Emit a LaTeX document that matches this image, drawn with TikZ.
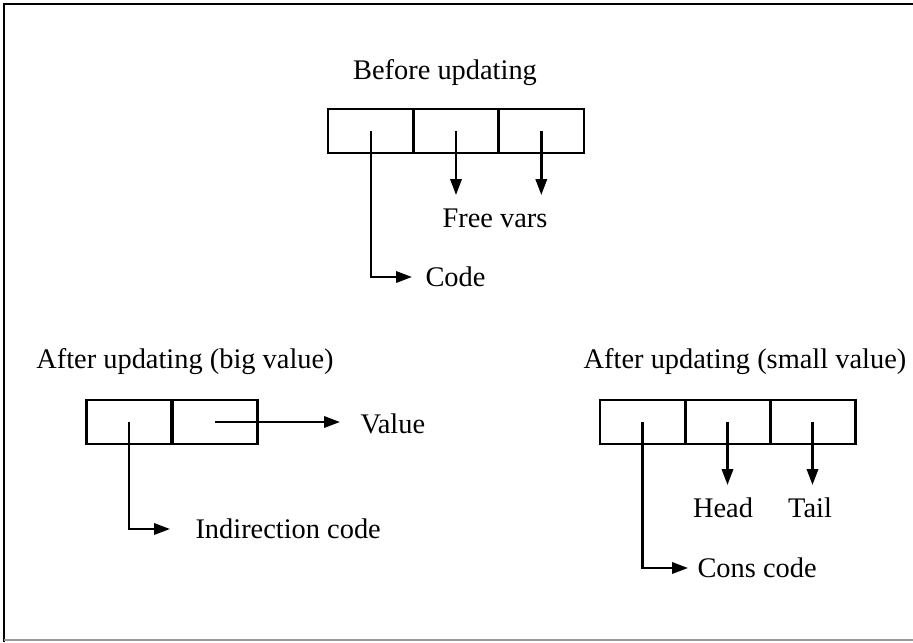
\documentclass[tikz,border=0pt]{standalone}
\usepackage{fontspec}
\setmainfont{Liberation Serif}
\usetikzlibrary{arrows.meta}

\tikzset{every picture/.style={line width=0.75pt}}
\tikzset{
  cell/.style={draw, line width=2pt, minimum width=64pt, minimum height=33pt, inner sep=0pt, outer sep=0pt},
  ptr/.style={line width=1.8pt, -{Triangle[length=12pt,width=8.5pt]}},
  lbl/.style={inner sep=0pt, font=\fontsize{21.3}{25}\selectfont},
}

\begin{document}
\begin{tikzpicture}[x=0.75pt,y=0.75pt,yscale=-1,xscale=1]
\useasboundingbox (0,0) rectangle (913,642);

%Frame
\draw [line width=2pt] (913,4) -- (4,4) -- (4,642);
\draw [line width=1.2pt, black!40] (4,640) -- (913,640);

%Closure before updating
\node [lbl] (before) at (445,73) {Before updating};
\node [cell] (b1) at (370.7,131) {};
\node [cell] (b2) at (456,131) {};
\node [cell] (b3) at (541.3,131) {};
\node [lbl] (freevars) at (495,218) {Free vars};
\node [lbl, anchor=west] (code) at (425,277) {Code};
\coordinate (b2end) at (456,195);
\coordinate (b3end) at (541.3,195);
\coordinate (codeend) at (412,277);
\draw [ptr] (b1.center) |- (codeend);
\draw [ptr] (b2.center) -- (b2end);
\draw [ptr] (b3.center) -- (b3end);

%After updating, big value
\node [lbl] (afterbig) at (185,362) {After updating (big value)};
\node [cell] (l1) at (129,422) {};
\node [cell] (l2) at (215,422) {};
\node [lbl, anchor=west] (value) at (360,424) {Value};
\node [lbl, anchor=west] (indcode) at (195,529) {Indirection code};
\coordinate (valueend) at (340,422);
\coordinate (indend) at (170,529);
\draw [ptr] (l1.center) |- (indend);
\draw [ptr] (l2.center) -- (valueend);

%After updating, small value
\node [lbl] (aftersmall) at (745,362) {After updating (small value)};
\node [cell] (r1) at (642.5,422) {};
\node [cell] (r2) at (727.5,422) {};
\node [cell] (r3) at (812.5,422) {};
\node [lbl] (head) at (723,508) {Head};
\node [lbl] (tail) at (810,508) {Tail};
\node [lbl, anchor=west] (conscode) at (697,568) {Cons code};
\coordinate (headend) at (727.5,485);
\coordinate (tailend) at (812.5,485);
\coordinate (consend) at (688,568);
\draw [ptr] (r1.center) |- (consend);
\draw [ptr] (r2.center) -- (headend);
\draw [ptr] (r3.center) -- (tailend);
\end{tikzpicture}
\end{document}
